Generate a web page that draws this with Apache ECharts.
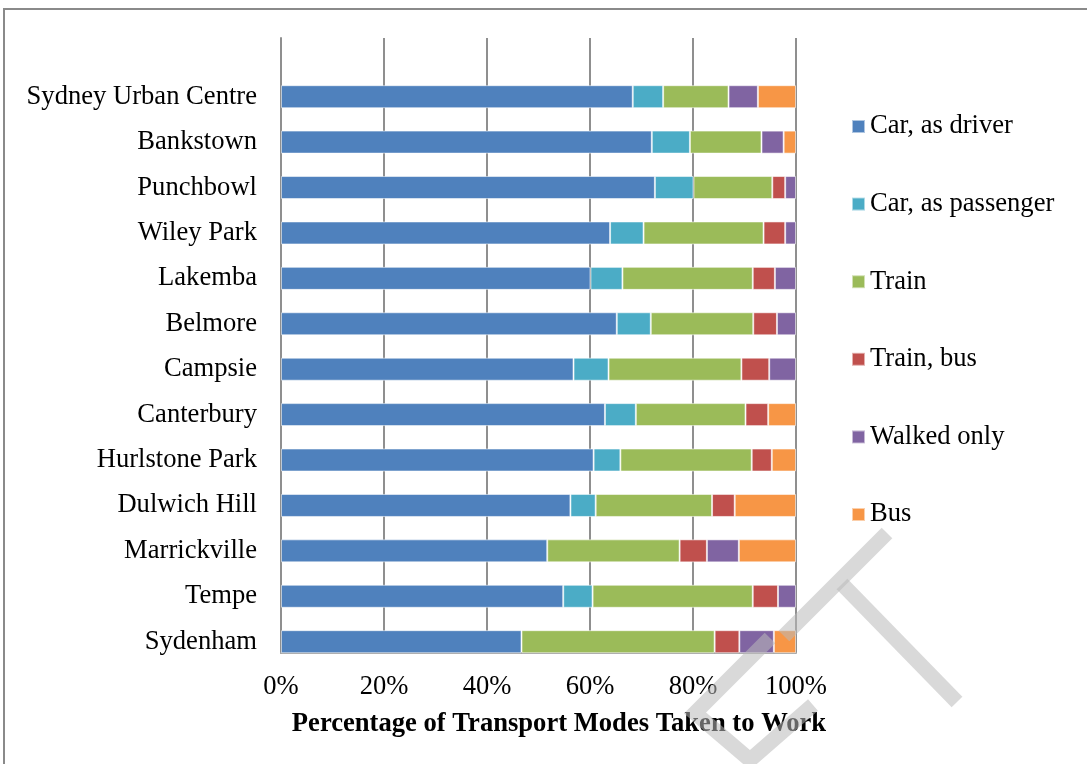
<!DOCTYPE html>
<html>
<head>
<meta charset="utf-8">
<script src="https://cdn.jsdelivr.net/npm/echarts@6/dist/echarts.min.js"></script>
<style>
  html, body { margin: 0; padding: 0; background: #fff; }
  #chart { width: 1087px; height: 764px; }
</style>
</head>
<body>
<div id="chart"></div>
<script>
// suburbs, top to bottom
const suburbs = [
  "Sydney Urban Centre", "Bankstown", "Punchbowl", "Wiley Park", "Lakemba",
  "Belmore", "Campsie", "Canterbury", "Hurlstone Park", "Dulwich Hill",
  "Marrickville", "Tempe", "Sydenham"
];

// share of each mode (%), same order as suburbs
const carDriver    = [68.3, 72.0, 72.6, 63.9, 60.1, 65.2, 56.8, 62.9, 60.7, 56.2, 51.7, 54.8, 46.7];
const carPassenger = [5.9, 7.4, 7.5, 6.5, 6.2, 6.6, 6.8, 6.0, 5.2, 4.9, 0, 5.7, 0];
const train        = [12.7, 13.9, 15.3, 23.3, 25.3, 19.9, 25.8, 21.3, 25.5, 22.6, 25.7, 31.1, 37.5];
const trainBus     = [0, 0, 2.5, 4.2, 4.3, 4.6, 5.4, 4.4, 3.9, 4.4, 5.3, 4.9, 4.8];
const walkedOnly   = [5.7, 4.3, 2.1, 2.1, 4.1, 3.7, 5.2, 0, 0, 0, 6.2, 3.5, 6.7];
const bus          = [7.4, 2.4, 0, 0, 0, 0, 0, 5.4, 4.7, 11.9, 11.1, 0, 4.3];

const modeNames = ["Car, as driver", "Car, as passenger", "Train", "Train, bus", "Walked only", "Bus"];
const modeValues = [carDriver, carPassenger, train, trainBus, walkedOnly, bus];
const modeColors = ["#4F81BD", "#4BACC6", "#9BBB59", "#C0504D", "#8064A2", "#F79646"];

const tickValues = [0, 20, 40, 60, 80, 100];

const FONT = '"Liberation Serif", "Times New Roman", serif';
const FS = 26.6;

const chart = echarts.init(document.getElementById("chart"));

const series = modeNames.map((name, i) => ({
  name: name,
  type: "bar",
  stack: "total",
  xAxisIndex: 1,
  yAxisIndex: 1,
  barWidth: 23,
  itemStyle: {
    color: modeColors[i],
    borderColor: "rgba(255,255,255,0.55)",
    borderWidth: 1
  },
  emphasis: { disabled: true },
  data: modeValues[i].map(v => (v === 0 ? "-" : v))
}));

const options = {
  animation: false,
  backgroundColor: "#fff",
  textStyle: { fontFamily: FONT },
  grid: [
    // frame with gridlines and ticks
    { left: 281, right: 291, top: 38, bottom: 111 },
    // bars
    { left: 281, right: 291, top: 74, bottom: 99.6 }
  ],
  xAxis: [
    {
      gridIndex: 0,
      type: "value",
      min: 0,
      max: 100,
      interval: 20,
      axisLine: { show: true, lineStyle: { color: "#a6a6a6", width: 2 } },
      axisTick: { show: false },
      splitLine: { show: true, lineStyle: { color: "#8f8f8f", width: 2 } },
      axisLabel: {
        margin: 21,
        color: "#000",
        fontFamily: FONT,
        fontSize: FS,
        formatter: v => (tickValues.includes(v) ? v + "%" : "")
      },
      name: "Percentage of Transport Modes Taken to Work",
      nameLocation: "middle",
      nameGap: 58,
      nameTextStyle: {
        color: "#000",
        fontFamily: FONT,
        fontSize: FS,
        fontWeight: "bold",
        padding: [0, 0, 0, 41]
      }
    },
    {
      gridIndex: 1,
      type: "value",
      min: 0,
      max: 100,
      show: false
    }
  ],
  yAxis: [
    {
      gridIndex: 0,
      type: "category",
      data: suburbs,
      inverse: true,
      axisLine: { show: true, onZero: false, lineStyle: { color: "#8f8f8f", width: 2 } },
      axisTick: { show: false },
      axisLabel: { show: false }
    },
    {
      gridIndex: 1,
      type: "category",
      data: suburbs,
      inverse: true,
      axisLine: { show: false },
      axisTick: { show: false },
      axisLabel: {
        margin: 24,
        color: "#000",
        fontFamily: FONT,
        fontSize: FS
      }
    }
  ],
  legend: {
    orient: "vertical",
    left: 851,
    top: 113,
    padding: 0,
    icon: "rect",
    itemWidth: 13,
    itemHeight: 13,
    itemGap: 50.6,
    selectedMode: false,
    data: modeNames,
    textStyle: {
      color: "#000",
      fontFamily: FONT,
      fontSize: FS,
      lineHeight: 26
    }
  },
  graphic: [
    // outer chart frame
    {
      type: "rect",
      silent: true,
      shape: { x: 4, y: 9, width: 1200, height: 900 },
      style: { fill: "none", stroke: "#8a8a8a", lineWidth: 2 },
      z: -1
    },
    // watermark strokes
    {
      type: "polyline",
      silent: true,
      z: 100,
      shape: { points: [[887, 533], [784, 636]] },
      style: { stroke: "rgb(185,185,185)", lineWidth: 15, opacity: 0.55, fill: "none" }
    },
    {
      type: "polyline",
      silent: true,
      z: 100,
      shape: { points: [[842, 584], [957, 702]] },
      style: { stroke: "rgb(185,185,185)", lineWidth: 15, opacity: 0.55, fill: "none" }
    },
    {
      type: "polyline",
      silent: true,
      z: 100,
      shape: { points: [[770, 638], [695, 713], [750, 760], [813, 705]] },
      style: { stroke: "rgb(185,185,185)", lineWidth: 15, opacity: 0.55, fill: "none", lineJoin: "miter" }
    }
  ],
  series: series
};

chart.setOption(options);
</script>
</body>
</html>
